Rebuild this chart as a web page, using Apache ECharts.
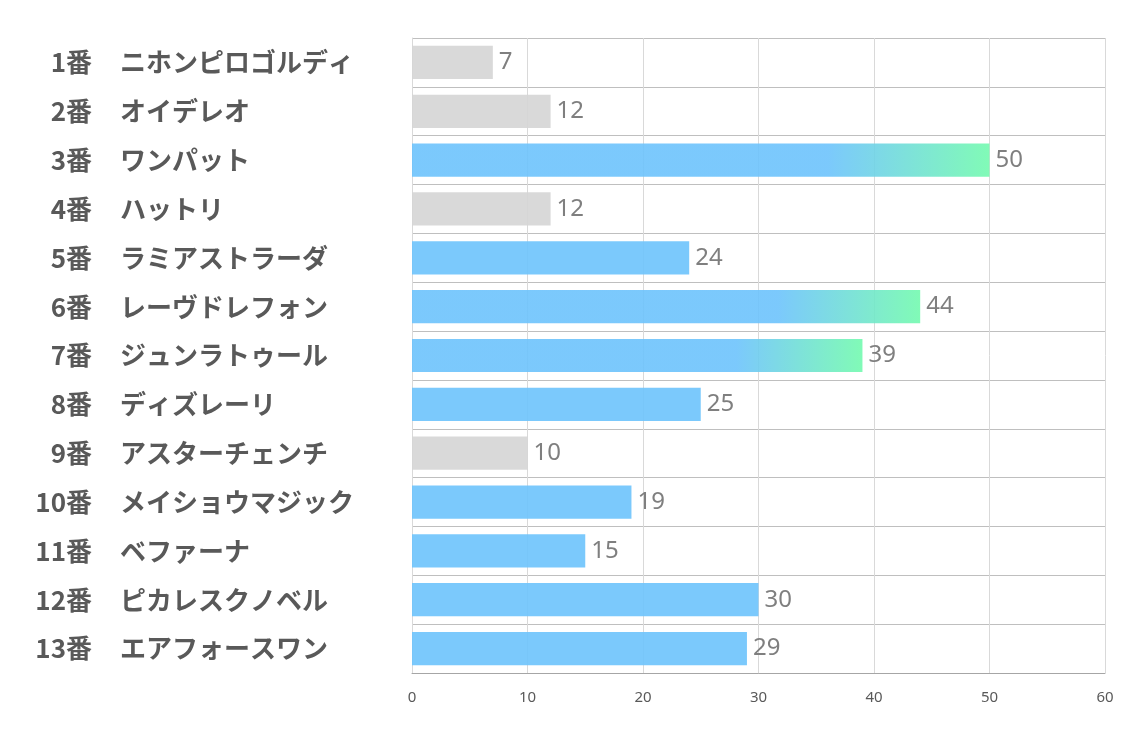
<!DOCTYPE html>
<html>
<head>
<meta charset="utf-8">
<script src="https://cdn.jsdelivr.net/npm/echarts@6/dist/echarts.min.js"></script>
<style>
  html, body { margin: 0; padding: 0; background: #fff; }
  #chart { width: 1134px; height: 737px; }
</style>
</head>
<body>
<div id="chart"></div>
<script>
// horse numbers and names, top to bottom
const gateNumbers = ['1番', '2番', '3番', '4番', '5番', '6番', '7番', '8番', '9番', '10番', '11番', '12番', '13番']
const horseNames = [
  'ニホンピロゴルディ', 'オイデレオ', 'ワンパット', 'ハットリ', 'ラミアストラーダ',
  'レーヴドレフォン', 'ジュンラトゥール', 'ディズレーリ', 'アスターチェンチ',
  'メイショウマジック', 'ベファーナ', 'ピカレスクノベル', 'エアフォースワン'
]
const scores = [7, 12, 50, 12, 24, 44, 39, 25, 10, 19, 15, 30, 29]
// 'off' = grey, 'on' = blue, 'top' = blue to green
const status = ['off', 'off', 'top', 'off', 'on', 'top', 'top', 'on', 'off', 'on', 'on', 'on', 'on']
const xTicks = [0, 10, 20, 30, 40, 50, 60]

const colorOn = 'rgba(109,195,252,0.9)'
const colorOff = 'rgba(213,213,213,0.9)'
const labelFont = { fontSize: 26, fontWeight: 'bold', color: '#595959', fontFamily: 'Noto Sans CJK JP' }

function barColor(s) {
  if (s === 'off') return colorOff
  if (s === 'on') return colorOn
  return new echarts.graphic.LinearGradient(0, 0, 1, 0, [
    { offset: 0, color: colorOn },
    { offset: 0.72, color: colorOn },
    { offset: 1, color: 'rgba(115,250,175,0.9)' }
  ])
}

const chart = echarts.init(document.getElementById('chart'))
chart.setOption({
  animation: false,
  grid: { left: 412, right: 29, top: 38, bottom: 64 },
  xAxis: {
    type: 'value',
    min: xTicks[0],
    max: xTicks[xTicks.length - 1],
    interval: 10,
    axisLine: { show: true, lineStyle: { color: '#a6a6a6' } },
    axisTick: { show: false },
    axisLabel: { color: '#595959', fontSize: 15, margin: 17, fontFamily: 'Noto Sans' },
    splitLine: { lineStyle: { color: '#d9d9d9' } }
  },
  yAxis: [
    {
      type: 'category',
      inverse: true,
      data: horseNames,
      axisLine: { show: true, lineStyle: { color: '#d9d9d9' } },
      axisTick: { show: false },
      splitLine: { show: true, lineStyle: { color: '#bfbfbf' } },
      axisLabel: Object.assign({ align: 'left', margin: 292 }, labelFont)
    },
    {
      type: 'category',
      position: 'left',
      inverse: true,
      data: gateNumbers,
      axisLine: { show: false },
      axisTick: { show: false },
      splitLine: { show: false },
      axisLabel: Object.assign({ align: 'right', margin: 320 }, labelFont)
    }
  ],
  series: [{
    type: 'bar',
    barWidth: '68%',
    data: scores.map((v, i) => ({ value: v, itemStyle: { color: barColor(status[i]) } })),
    label: {
      show: true,
      position: 'right',
      distance: 6,
      color: '#7f7f7f',
      fontSize: 24,
      fontFamily: 'Noto Sans'
    }
  }]
})
</script>
</body>
</html>
